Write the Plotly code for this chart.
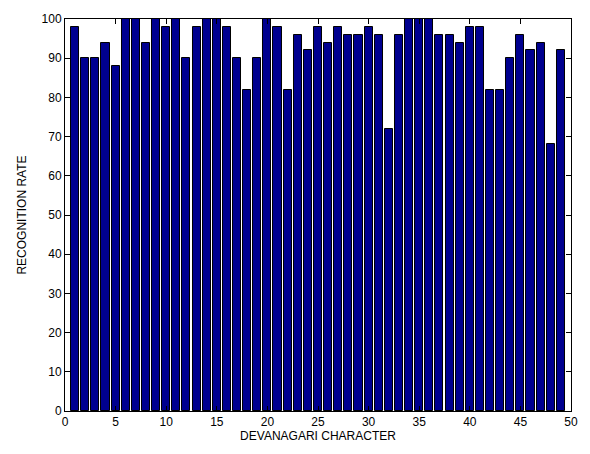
import plotly.graph_objects as go

characters = list(range(1, 50))
rates = [98, 90, 90, 94, 88, 100, 100, 94, 100, 98,
         100, 90, 98, 100, 100, 98, 90, 82, 90, 100,
         98, 82, 96, 92, 98, 94, 98, 96, 96, 98,
         96, 72, 96, 100, 100, 100, 96, 96, 94, 98,
         98, 82, 82, 90, 96, 92, 94, 68, 92]
x_ticks = [0, 5, 10, 15, 20, 25, 30, 35, 40, 45, 50]
y_ticks = [0, 10, 20, 30, 40, 50, 60, 70, 80, 90, 100]

font = dict(family="Liberation Sans, Arial", size=12, color="black")
fig = go.Figure(go.Bar(
    x=characters, y=rates, width=0.8,
    marker=dict(color="#00008f", line=dict(color="black", width=1)),
))

axis_common = dict(
    showline=True, linecolor="black", linewidth=1, mirror="ticks",
    ticks="inside", ticklen=5, tickcolor="black", showgrid=False, zeroline=False,
    tickfont=font,
)
fig.update_xaxes(range=[0, 50], tickvals=x_ticks,
                 title=dict(text="DEVANAGARI CHARACTER", standoff=0, font=font),
                 **axis_common)
fig.update_yaxes(range=[0, 100], tickvals=y_ticks,
                 title=dict(text="RECOGNITION RATE", standoff=12, font=font),
                 **axis_common)
fig.update_layout(
    width=590, height=454, margin=dict(l=65, r=19, t=17, b=43),
    plot_bgcolor="white", paper_bgcolor="white", bargap=0, showlegend=False,
)
fig.write_html("out.html")
